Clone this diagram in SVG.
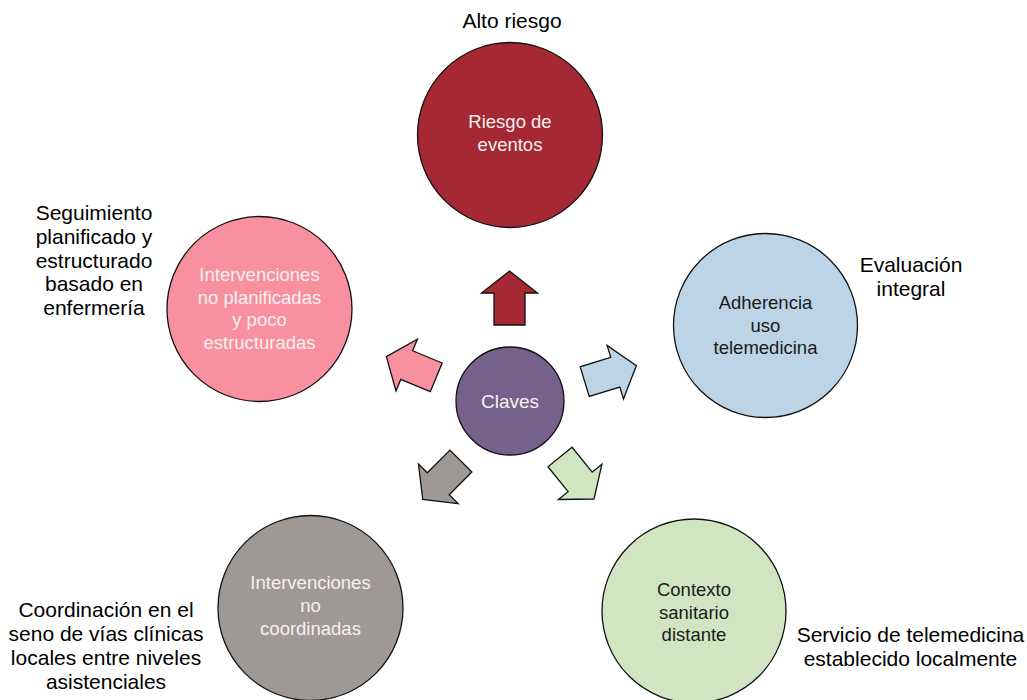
<svg xmlns="http://www.w3.org/2000/svg" width="1027" height="700" viewBox="0 0 1027 700">
<style>
  .c { stroke: #111; stroke-width: 1.3; }
  .a { stroke: #111; stroke-width: 1.3; stroke-linejoin: miter; }
  .t { font-family: "Liberation Sans", Arial, sans-serif; font-size: 18.5px; text-anchor: middle; }
  .o { font-family: "Liberation Sans", Arial, sans-serif; font-size: 21px; text-anchor: middle; fill: #000; }
  .w { fill: #F8F0F0; }
  .d { fill: #1a1a1a; }
</style>
<defs>
  <path id="arr" d="M0,-27 L28,-5 L15.5,-5 L15.5,27 L-15.5,27 L-15.5,-5 L-28,-5 Z"/>
</defs>
<rect width="1027" height="700" fill="#fff"/>

<g id="connectors">
  <use href="#arr" class="a" fill="#A52834" transform="translate(509.5,298)"/>
  <use href="#arr" class="a" fill="#BCD4E6" transform="translate(610.5,373.7) rotate(73)"/>
  <use href="#arr" class="a" fill="#D0E6C2" transform="translate(577,478) rotate(141)"/>
  <use href="#arr" class="a" fill="#9E9995" transform="translate(441.8,480.2) rotate(225)"/>
  <use href="#arr" class="a" fill="#F8909F" transform="translate(411.3,367) rotate(-67.5)"/>
</g>

<g id="node-claves">
  <circle class="c" cx="510" cy="401" r="54" fill="#77608C"/>
  <text class="t w" x="510" y="408" style="font-size:19px">Claves</text>
</g>

<g id="node-riesgo">
  <circle class="c" cx="510" cy="135" r="92.5" fill="#A52834"/>
  <text class="t w" x="510" y="128">Riesgo de</text>
  <text class="t w" x="510" y="151">eventos</text>
</g>

<g id="node-adherencia">
  <circle class="c" cx="765.5" cy="325.5" r="92" fill="#BCD4E6"/>
  <text class="t d" x="765.5" y="309">Adherencia</text>
  <text class="t d" x="765.5" y="331.5">uso</text>
  <text class="t d" x="765.5" y="354">telemedicina</text>
</g>

<g id="node-contexto">
  <circle class="c" cx="694" cy="611" r="92" fill="#D0E6C2"/>
  <text class="t d" x="694" y="596">Contexto</text>
  <text class="t d" x="694" y="618.5">sanitario</text>
  <text class="t d" x="694" y="641">distante</text>
</g>

<g id="node-coordinadas">
  <circle class="c" cx="310.5" cy="608" r="92.5" fill="#9E9995"/>
  <text class="t w" x="310.5" y="589">Intervenciones</text>
  <text class="t w" x="310.5" y="612">no</text>
  <text class="t w" x="310.5" y="635">coordinadas</text>
</g>

<g id="node-planificadas">
  <circle class="c" cx="259.5" cy="309" r="92.5" fill="#F8909F"/>
  <text class="t w" x="259.5" y="281">Intervenciones</text>
  <text class="t w" x="259.5" y="303.5">no planificadas</text>
  <text class="t w" x="259.5" y="326">y poco</text>
  <text class="t w" x="259.5" y="348.5">estructuradas</text>
</g>

<g id="labels">
  <text class="o" x="512" y="28">Alto riesgo</text>
  <text class="o" x="911" y="272">Evaluación</text>
  <text class="o" x="911" y="296">integral</text>
  <text class="o" x="910.5" y="642">Servicio de telemedicina</text>
  <text class="o" x="910.5" y="666">establecido localmente</text>
  <text class="o" x="94" y="220">Seguimiento</text>
  <text class="o" x="94" y="244">planificado y</text>
  <text class="o" x="94" y="267.5">estructurado</text>
  <text class="o" x="94" y="291">basado en</text>
  <text class="o" x="94" y="315">enfermería</text>
  <text class="o" x="106" y="617">Coordinación en el</text>
  <text class="o" x="106" y="641">seno de vías clínicas</text>
  <text class="o" x="106" y="665">locales entre niveles</text>
  <text class="o" x="106" y="689">asistenciales</text>
</g>
</svg>
